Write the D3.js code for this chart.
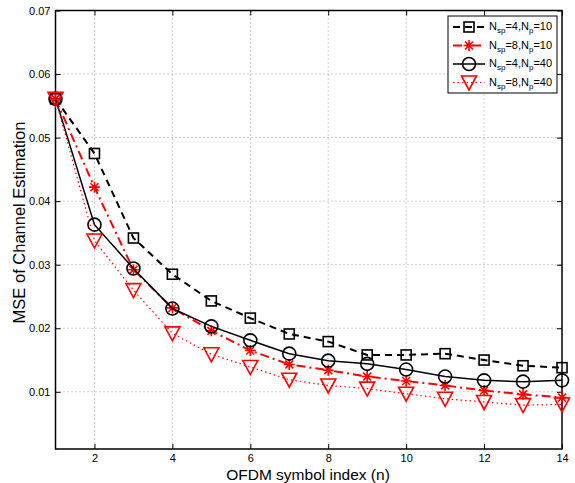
<!DOCTYPE html>
<html>
<head>
<meta charset="utf-8">
<script src="https://cdn.jsdelivr.net/npm/d3@7"></script>
<style>
  body { margin: 0; background: #fff; }
  svg { display: block; font-family: "Liberation Sans", Arial, Helvetica, sans-serif; }
</style>
</head>
<body>
<svg id="chart" width="575" height="483"></svg>
<script>
// OFDM symbol index
const symbolIndex = [1, 2, 3, 4, 5, 6, 7, 8, 9, 10, 11, 12, 13, 14];

// MSE for each pilot configuration
const mseSp4Np10 = [0.0561, 0.0475, 0.0342, 0.0285, 0.0243, 0.0216, 0.0191, 0.0179, 0.0158, 0.0158, 0.0160, 0.0150, 0.0141, 0.0138];
const mseSp8Np10 = [0.0561, 0.0422, 0.0292, 0.0232, 0.0196, 0.0165, 0.0143, 0.0134, 0.0124, 0.0117, 0.0110, 0.0102, 0.0096, 0.0091];
const mseSp4Np40 = [0.0561, 0.0363, 0.0294, 0.0231, 0.0203, 0.0181, 0.0160, 0.0149, 0.0144, 0.0135, 0.0124, 0.0118, 0.0116, 0.0118];
const mseSp8Np40 = [0.0561, 0.0338, 0.0260, 0.0192, 0.0159, 0.0139, 0.0119, 0.0110, 0.0105, 0.0097, 0.0089, 0.0084, 0.0079, 0.0080];

const xTicks = [2, 4, 6, 8, 10, 12, 14];
const yTicks = [0.01, 0.02, 0.03, 0.04, 0.05, 0.06, 0.07];

const series = [
  { sp: "4", np: "10", values: mseSp4Np10, color: "#000", dash: "7,5", width: 2, marker: "square" },
  { sp: "8", np: "10", values: mseSp8Np10, color: "#ff0000", dash: "9,4,2,4", width: 2, marker: "star" },
  { sp: "4", np: "40", values: mseSp4Np40, color: "#000", dash: null, width: 1.5, marker: "circle" },
  { sp: "8", np: "40", values: mseSp8Np40, color: "#ff0000", dash: "1.5,3", width: 1.2, marker: "triangle" }
];

const svg = d3.select("#chart");
const plotLeft = 55.5, plotRight = 562, plotTop = 10.5, plotBottom = 449;

const x = d3.scaleLinear().domain([1, 14]).range([plotLeft, plotRight]);
const y = d3.scaleLinear().domain([0.001, 0.07]).range([plotBottom, plotTop]);

// dotted grid
const grid = svg.append("g");
xTicks.filter(t => t < 14).forEach(t => {
  grid.append("line").attr("x1", x(t)).attr("x2", x(t)).attr("y1", plotTop).attr("y2", plotBottom)
    .attr("stroke", "#888").attr("stroke-width", 0.8).attr("stroke-dasharray", "1,3");
});
yTicks.filter(t => t < 0.07).forEach(t => {
  grid.append("line").attr("x1", plotLeft).attr("x2", plotRight).attr("y1", y(t)).attr("y2", y(t))
    .attr("stroke", "#888").attr("stroke-width", 0.8).attr("stroke-dasharray", "1,3");
});

// axes
const xAxis = d3.axisBottom(x).tickValues(xTicks).tickSize(-5).tickPadding(5).tickFormat(d3.format("d"));
const yAxis = d3.axisLeft(y).tickValues(yTicks).tickSize(-5).tickPadding(5).tickFormat(d3.format(".2f"));
const gx = svg.append("g").attr("transform", `translate(0,${plotBottom})`).call(xAxis);
const gy = svg.append("g").attr("transform", `translate(${plotLeft},0)`).call(yAxis);
[gx, gy].forEach(g => {
  g.select(".domain").remove();
  g.selectAll(".tick line").attr("stroke", "#000");
  g.selectAll(".tick text").attr("font-size", 11).attr("fill", "#000")
    .attr("font-family", "Liberation Sans, Arial, sans-serif");
});
// top and right ticks
const gt = svg.append("g").attr("transform", `translate(0,${plotTop})`)
  .call(d3.axisTop(x).tickValues(xTicks).tickSize(-5).tickFormat(""));
const gr = svg.append("g").attr("transform", `translate(${plotRight},0)`)
  .call(d3.axisRight(y).tickValues(yTicks).tickSize(-5).tickFormat(""));
[gt, gr].forEach(g => { g.select(".domain").remove(); g.selectAll(".tick line").attr("stroke", "#000"); });

// frame
svg.append("rect").attr("x", plotLeft).attr("y", plotTop).attr("width", plotRight - plotLeft).attr("height", plotBottom - plotTop)
  .attr("fill", "none").attr("stroke", "#000").attr("stroke-width", 1.5);

// axis titles
svg.append("text").attr("x", 308).attr("y", 479.5).attr("text-anchor", "middle")
  .attr("font-size", 15.5).text("OFDM symbol index (n)");
svg.append("text").attr("transform", `translate(24.5,222.5) rotate(-90)`)
  .attr("text-anchor", "middle").attr("font-size", 16.5).text("MSE of Channel Estimation");

function drawMarker(g, type, cx, cy, color) {
  if (type === "square") {
    g.append("rect").attr("x", cx - 5).attr("y", cy - 5).attr("width", 10).attr("height", 10)
      .attr("fill", "none").attr("stroke", color).attr("stroke-width", 1.6);
  } else if (type === "circle") {
    g.append("circle").attr("cx", cx).attr("cy", cy).attr("r", 6.5)
      .attr("fill", "none").attr("stroke", color).attr("stroke-width", 1.6);
  } else if (type === "triangle") {
    const h = 6.5;
    g.append("path").attr("d", `M${cx - 7.5},${cy - h}L${cx + 7.5},${cy - h}L${cx},${cy + h + 1}Z`)
      .attr("fill", "none").attr("stroke", color).attr("stroke-width", 1.6);
  } else if (type === "star") {
    const r = 5.5, d = r * 0.72;
    g.append("path")
      .attr("d", `M${cx - r},${cy}L${cx + r},${cy}M${cx},${cy - r}L${cx},${cy + r}` +
        `M${cx - d},${cy - d}L${cx + d},${cy + d}M${cx - d},${cy + d}L${cx + d},${cy - d}`)
      .attr("stroke", color).attr("stroke-width", 1.6).attr("fill", "none");
  }
}

const line = d3.line().x((d, i) => x(symbolIndex[i])).y(d => y(d));
const plot = svg.append("g");
series.forEach(s => {
  const g = plot.append("g");
  g.append("path").attr("d", line(s.values)).attr("fill", "none")
    .attr("stroke", s.color).attr("stroke-width", s.width)
    .attr("stroke-dasharray", s.dash);
  s.values.forEach((v, i) => drawMarker(g, s.marker, x(symbolIndex[i]), y(v), s.color));
});

// legend
const lg = svg.append("g");
const lx = 448, ly = 16, lw = 109, lh = 77;
lg.append("rect").attr("x", lx).attr("y", ly).attr("width", lw).attr("height", lh)
  .attr("fill", "#fff").attr("stroke", "#000").attr("stroke-width", 1);
series.forEach((s, i) => {
  const yy = ly + 11 + i * 18.5;
  lg.append("line").attr("x1", lx + 5).attr("x2", lx + 37).attr("y1", yy).attr("y2", yy)
    .attr("stroke", s.color).attr("stroke-width", s.width).attr("stroke-dasharray", s.dash);
  drawMarker(lg, s.marker, lx + 21, yy, s.color);
  const t = lg.append("text").attr("x", lx + 41).attr("y", yy + 3).attr("font-size", 11);
  t.append("tspan").text("N");
  t.append("tspan").attr("font-size", 8).attr("dy", 3).text("sp");
  t.append("tspan").attr("dy", -3).text(`=${s.sp},N`);
  t.append("tspan").attr("font-size", 8).attr("dy", 3).text("p");
  t.append("tspan").attr("dy", -3).text(`=${s.np}`);
});
</script>
</body>
</html>
